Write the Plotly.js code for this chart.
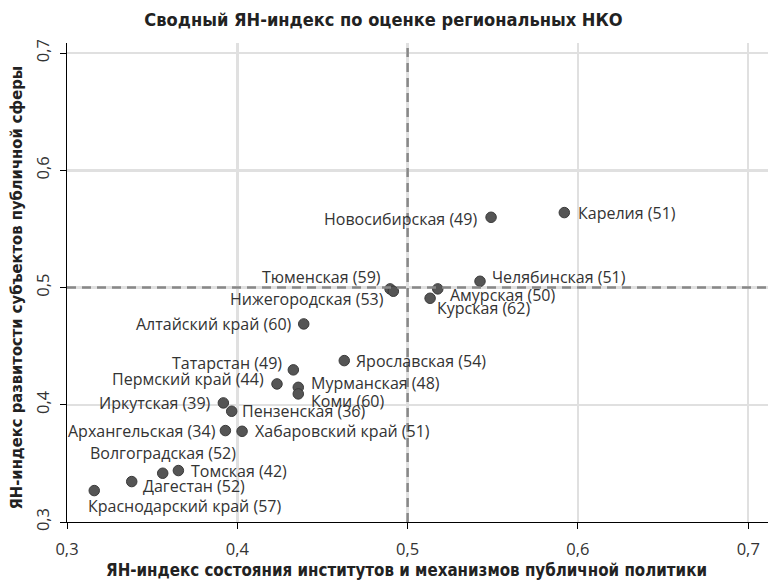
<!DOCTYPE html>
<html>
<head>
<meta charset="utf-8">
<script src="https://cdn.plot.ly/plotly-3.0.1.min.js"></script>
<style>html,body{margin:0;padding:0;background:#fff;}#chart{width:768px;height:580px;}</style>
</head>
<body>
<div id="chart"></div>
<script>
// Data
const regions = ["Карелия","Новосибирская","Челябинская","Амурская","Курская","Тюменская","Нижегородская","Алтайский край","Ярославская","Татарстан","Пермский край","Мурманская","Коми","Иркутская","Пензенская","Архангельская","Хабаровский край","Волгоградская","Томская","Дагестан","Краснодарский край"];
const ngoCount = [51,49,51,50,62,59,53,60,54,49,44,48,60,39,36,34,51,52,42,52,57];
const policyIndex = [0.592,0.549,0.5425,0.5177,0.5132,0.4897,0.4916,0.439,0.4628,0.4329,0.4233,0.4358,0.4358,0.3918,0.3967,0.393,0.4028,0.3562,0.3654,0.338,0.316];
const actorsIndex = [0.564,0.560,0.5054,0.4989,0.4909,0.4989,0.4969,0.469,0.4377,0.4298,0.4178,0.4149,0.4093,0.4016,0.3945,0.378,0.3774,0.3416,0.3439,0.3345,0.3268];
const tickVals = [0.3,0.4,0.5,0.6,0.7];
const titleText = "Сводный ЯН-индекс по оценке региональных НКО";
const xTitleText = "ЯН-индекс состояния институтов и механизмов публичной политики";
const yTitleText = "ЯН-индекс развитости субъектов публичной сферы";

// Label placement (layout only): [xanchor, xshift px, yshift px]
const labelPlacement = [
  ["left",12,0],["right",-12,-2],["left",10,4],["left",10,-6],["left",5,-10],
  ["right",-7,12],["right",-7,-8],["right",-10,0],["left",10,0],["right",-9,7],
  ["right",-11,5],["left",11,4],["left",11,-7],["right",-10,0],["left",8,0],
  ["right",-7,0],["left",11,0],["center",0,20],["left",11,0],["left",9,-4],["left",-8,-15]
];

const labelFont = {family:"Open Sans, sans-serif", size:16, color:"#333"};
const boldFont = "DejaVu Sans Condensed, sans-serif";

const annotations = regions.map((r,i)=>({
  x: policyIndex[i], y: actorsIndex[i], xref:"x", yref:"y",
  text: r + " (" + ngoCount[i] + ")", showarrow:false,
  xanchor: labelPlacement[i][0], yanchor:"middle",
  xshift: labelPlacement[i][1], yshift: labelPlacement[i][2],
  font: labelFont
}));
annotations.push({
  text: xTitleText, xref:"paper", yref:"paper", x:(406-67)/701, y:(522-570)/479,
  xanchor:"center", yanchor:"middle", showarrow:false,
  font:{family:boldFont, size:16.8, color:"#222", weight:"bold"}
});
annotations.push({
  text: yTitleText, xref:"paper", yref:"paper", x:(16-67)/701, y:(522-287.5)/479,
  xanchor:"center", yanchor:"middle", textangle:-90, showarrow:false,
  font:{family:boldFont, size:16.4, color:"#222", weight:"bold"}
});

const trace = {
  type:"scatter", mode:"markers",
  x: policyIndex, y: actorsIndex,
  marker:{size:10.5, color:"#555555", line:{width:1, color:"#3a3a3a"}},
  hoverinfo:"skip"
};

const layout = {
  width:768, height:580,
  margin:{l:67, r:0, t:43, b:58},
  paper_bgcolor:"#fff", plot_bgcolor:"#fff",
  separators:", ",
  showlegend:false,
  title:{text:titleText, x:(145+622)/2/768, xanchor:"center", y:1-20/580, yref:"container", yanchor:"middle",
         font:{family:boldFont, size:18.1, color:"#222", weight:"bold"}},
  xaxis:{range:[0.3,0.7116], tickvals:tickVals, tickformat:".1f", showgrid:true, gridcolor:"#e0e0e0", gridwidth:2.5,
         zeroline:false, showline:true, linecolor:"#000", linewidth:1, ticks:"outside", ticklen:6, tickcolor:"#000",
         ticklabelstandoff:6,
         tickfont:{family:"Open Sans, sans-serif", size:16.5, color:"#333"}},
  yaxis:{range:[0.3,0.7087], tickvals:tickVals, tickformat:".1f", showgrid:true, gridcolor:"#e0e0e0", gridwidth:2.5,
         zeroline:false, showline:true, linecolor:"#000", linewidth:1, ticks:"outside", ticklen:6, tickcolor:"#000",
         tickangle:-90, ticklabelstandoff:4,
         tickfont:{family:"Open Sans, sans-serif", size:16.5, color:"#333"}},
  shapes:[
    {type:"line", xref:"x", yref:"paper", x0:0.5, x1:0.5, y0:0, y1:1, line:{color:"#888", width:2.5, dash:"9px,6px"}, layer:"above"},
    {type:"line", xref:"paper", yref:"y", x0:0, x1:1, y0:0.5, y1:0.5, line:{color:"#888", width:2.5, dash:"9px,6px"}, layer:"above"}
  ],
  annotations: annotations
};

Plotly.newPlot("chart", [trace], layout, {displayModeBar:false, staticPlot:true});
</script>
</body>
</html>
